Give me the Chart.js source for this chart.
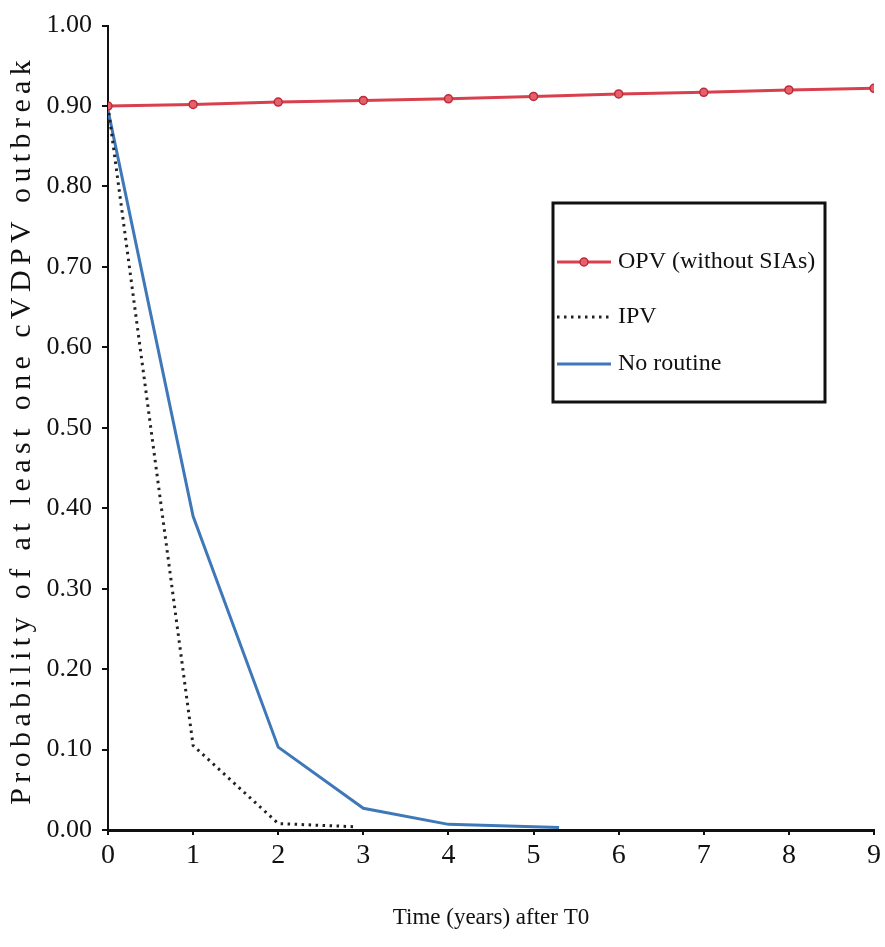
<!DOCTYPE html>
<html>
<head>
<meta charset="utf-8">
<script src="https://cdn.jsdelivr.net/npm/chart.js@4/dist/chart.umd.min.js"></script>
<style>
  html, body { margin: 0; padding: 0; background: #fff; }
  #wrap { width: 885px; height: 947px; }
</style>
</head>
<body>
<div id="wrap"><canvas id="chart" width="885" height="947"></canvas></div>
<script>
// values
const years = [0, 1, 2, 3, 4, 5, 6, 7, 8, 9];
const opvValues = [0.900, 0.902, 0.905, 0.907, 0.909, 0.912, 0.915, 0.917, 0.920, 0.922];
const ipvYears = [0, 0.93, 1, 2, 2.9];
const ipvValues = [0.900, 0.160, 0.105, 0.008, 0.004];
const noRoutineYears = [0, 1, 2, 3, 4, 5, 5.3];
const noRoutineValues = [0.895, 0.390, 0.103, 0.027, 0.007, 0.004, 0.003];
const yTicks = [0, 0.1, 0.2, 0.3, 0.4, 0.5, 0.6, 0.7, 0.8, 0.9, 1.0];
const yTitle = 'Probability of at least one cVDPV outbreak';
const xTitle = 'Time (years) after T0';

const FONT = '"Liberation Serif", "DejaVu Serif", serif';
const RED = '#d8404e';
const BLUE = '#3f78b8';

function toPoints(xs, ys) {
    return xs.map((x, i) => ({x: x, y: ys[i]}));
}

/**
 * Y title, drawn by hand: the original is spaced out wider than the font.
 */
const spacedYTitle = {
    id: 'spacedYTitle',
    afterDraw(chart) {
        const ctx = chart.ctx;
        const area = chart.chartArea;
        ctx.save();
        ctx.translate(22, (area.top + area.bottom) / 2 + 2);
        ctx.rotate(-Math.PI / 2);
        ctx.font = '30px ' + FONT;
        ctx.letterSpacing = '5.4px';
        ctx.fillStyle = '#111';
        ctx.textAlign = 'center';
        ctx.textBaseline = 'middle';
        ctx.fillText(yTitle, 0, 0);
        ctx.restore();
    }
};

/**
 * Legend drawn inside the plot, boxed, as in the figure.
 */
const boxLegend = {
    id: 'boxLegend',
    afterDatasetsDraw(chart) {
        const ctx = chart.ctx;
        const x0 = 553, y0 = 203, x1 = 825, y1 = 402;
        ctx.save();
        ctx.fillStyle = '#fff';
        ctx.fillRect(x0, y0, x1 - x0, y1 - y0);
        ctx.lineWidth = 3;
        ctx.strokeStyle = '#111';
        ctx.strokeRect(x0, y0, x1 - x0, y1 - y0);

        const rows = [262, 317, 364];
        ctx.font = '24px ' + FONT;
        ctx.textBaseline = 'middle';
        chart.data.datasets.forEach((ds, i) => {
            const y = rows[i];
            ctx.beginPath();
            ctx.setLineDash(ds.borderDash || []);
            ctx.lineWidth = ds.borderWidth;
            ctx.lineCap = ds.borderCapStyle || 'butt';
            ctx.strokeStyle = ds.borderColor;
            ctx.moveTo(557, y);
            ctx.lineTo(611, y);
            ctx.stroke();
            ctx.setLineDash([]);
            if (ds.pointRadius > 0) {
                ctx.beginPath();
                ctx.fillStyle = ds.pointBackgroundColor;
                ctx.strokeStyle = ds.pointBorderColor;
                ctx.lineWidth = 1.5;
                ctx.arc(584, y, ds.pointRadius, 0, Math.PI * 2);
                ctx.fill();
                ctx.stroke();
            }
            ctx.fillStyle = '#111';
            ctx.fillText(ds.label, 618, y);
        });
        ctx.restore();
    }
};

new Chart(document.getElementById('chart'), {
    type: 'line',
    data: {
        datasets: [
            {
                label: 'OPV (without SIAs)',
                data: toPoints(years, opvValues),
                borderColor: RED,
                borderWidth: 3,
                pointRadius: 4,
                pointBackgroundColor: '#e4606a',
                pointBorderColor: '#c02a38',
                pointBorderWidth: 1.5,
                tension: 0,
            },
            {
                label: 'IPV',
                data: toPoints(ipvYears, ipvValues),
                borderColor: '#222',
                borderWidth: 3,
                borderDash: [2.5, 4.5],
                pointRadius: 0,
                tension: 0,
            },
            {
                label: 'No routine',
                data: toPoints(noRoutineYears, noRoutineValues),
                borderColor: BLUE,
                borderWidth: 3,
                pointRadius: 0,
                tension: 0,
            },
        ],
    },
    options: {
        responsive: false,
        animation: false,
        layout: {padding: {top: 25, right: 7, left: 0, bottom: 0}},
        plugins: {
            legend: {display: false},
            tooltip: {enabled: false},
        },
        scales: {
            x: {
                type: 'linear',
                min: 0,
                max: 9,
                afterFit(scale) { scale.height = 117; },
                ticks: {
                    stepSize: 1,
                    color: '#111',
                    padding: 4,
                    font: {family: FONT, size: 28},
                },
                grid: {drawOnChartArea: false, color: '#111', tickLength: 5, lineWidth: 2},
                border: {color: '#111', width: 3},
                title: {
                    display: true,
                    text: xTitle,
                    color: '#111',
                    font: {family: FONT, size: 23},
                    padding: {top: 0, bottom: 15},
                },
            },
            y: {
                min: 0,
                max: 1,
                afterFit(scale) { scale.width = 108; },
                afterBuildTicks(scale) { scale.ticks = yTicks.map(v => ({value: v})); },
                ticks: {
                    color: '#111',
                    padding: 10,
                    font: {family: FONT, size: 26},
                    callback: v => v.toFixed(2),
                },
                grid: {drawOnChartArea: false, color: '#111', tickLength: 6, lineWidth: 2},
                border: {color: '#111', width: 2},
                title: {display: false},
            },
        },
    },
    plugins: [boxLegend, spacedYTitle],
});
</script>
</body>
</html>
